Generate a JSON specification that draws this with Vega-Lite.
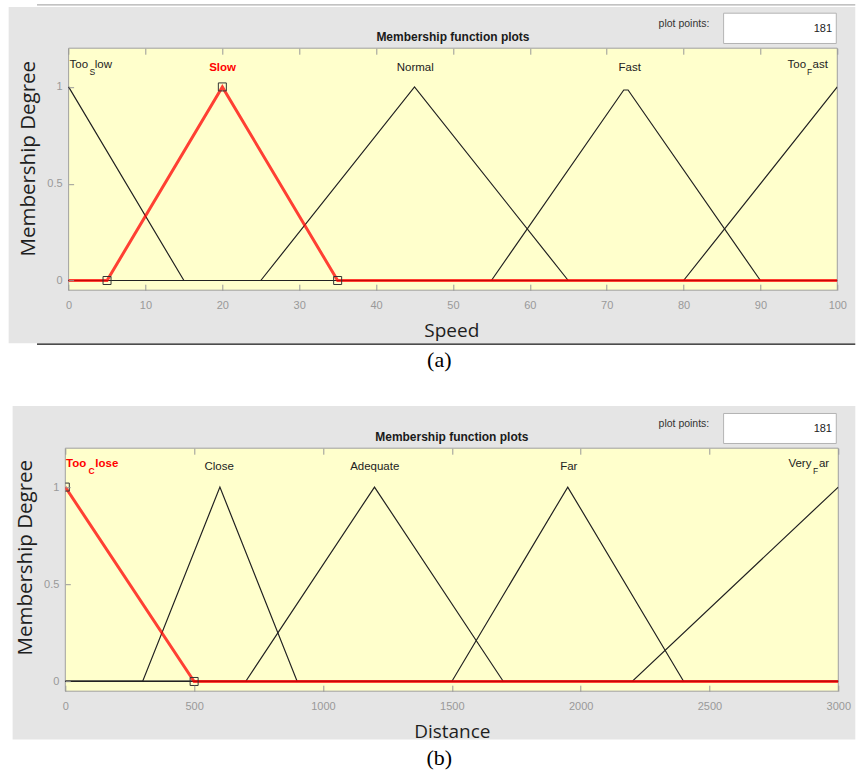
{
  "$schema": "https://vega.github.io/schema/vega-lite/v6.json",
  "background": "white",
  "padding": {"left": 8.3, "top": 4.2, "right": 1, "bottom": 4},
  "autosize": {"type": "pad"},
  "bounds": "flush",
  "spacing": 158,
  "config": {
    "view": {"stroke": null},
    "axis": {
      "domain": false, "grid": false, "tickColor": "#999999", "tickSize": -6,
      "labelColor": "#999999", "labelFont": "Liberation Sans", "labelFontSize": 11,
      "labelFlush": false, "labelOverlap": false,
      "titleFont": "Open Sans", "titleFontSize": 19, "titleFontWeight": "normal", "titleColor": "#1e1e1e"
    }
  },
  "datasets": {
    "a_mf": [
      {"mf": "TooSlow", "x": 0, "y": 1}, {"mf": "TooSlow", "x": 15, "y": 0}, {"mf": "TooSlow", "x": 100, "y": 0},
      {"mf": "Slow", "x": 0, "y": 0}, {"mf": "Slow", "x": 5, "y": 0}, {"mf": "Slow", "x": 20, "y": 1}, {"mf": "Slow", "x": 35, "y": 0}, {"mf": "Slow", "x": 100, "y": 0},
      {"mf": "Normal", "x": 0, "y": 0}, {"mf": "Normal", "x": 25, "y": 0}, {"mf": "Normal", "x": 45, "y": 1}, {"mf": "Normal", "x": 65, "y": 0}, {"mf": "Normal", "x": 100, "y": 0},
      {"mf": "Fast", "x": 0, "y": 0}, {"mf": "Fast", "x": 55, "y": 0}, {"mf": "Fast", "x": 72.22, "y": 0.984}, {"mf": "Fast", "x": 72.78, "y": 0.984}, {"mf": "Fast", "x": 90, "y": 0}, {"mf": "Fast", "x": 100, "y": 0},
      {"mf": "TooFast", "x": 0, "y": 0}, {"mf": "TooFast", "x": 80, "y": 0}, {"mf": "TooFast", "x": 100, "y": 1}
    ],
    "a_pts": [{"x": 5, "y": 0}, {"x": 20, "y": 1}, {"x": 35, "y": 0}],
    "a_lab": [
      {"x": 0.13, "t": "Too", "k": "p"}, {"x": 2.73, "t": "S", "k": "s"}, {"x": 3.41, "t": "low", "k": "p"},
      {"x": 20.03, "t": "Slow", "k": "cs"},
      {"x": 45.1, "t": "Normal", "k": "c"},
      {"x": 73.0, "t": "Fast", "k": "c"},
      {"x": 93.53, "t": "Too", "k": "p"}, {"x": 96.05, "t": "F", "k": "s"}, {"x": 96.79, "t": "ast", "k": "p"}
    ],
    "b_mf": [
      {"mf": "TooClose", "x": 0, "y": 1}, {"mf": "TooClose", "x": 500, "y": 0}, {"mf": "TooClose", "x": 3000, "y": 0},
      {"mf": "Close", "x": 0, "y": 0}, {"mf": "Close", "x": 300, "y": 0}, {"mf": "Close", "x": 600, "y": 1}, {"mf": "Close", "x": 900, "y": 0}, {"mf": "Close", "x": 3000, "y": 0},
      {"mf": "Adequate", "x": 0, "y": 0}, {"mf": "Adequate", "x": 700, "y": 0}, {"mf": "Adequate", "x": 1200, "y": 1}, {"mf": "Adequate", "x": 1700, "y": 0}, {"mf": "Adequate", "x": 3000, "y": 0},
      {"mf": "Far", "x": 0, "y": 0}, {"mf": "Far", "x": 1500, "y": 0}, {"mf": "Far", "x": 1950, "y": 1}, {"mf": "Far", "x": 2400, "y": 0}, {"mf": "Far", "x": 3000, "y": 0},
      {"mf": "VeryFar", "x": 0, "y": 0}, {"mf": "VeryFar", "x": 2200, "y": 0}, {"mf": "VeryFar", "x": 3000, "y": 1}
    ],
    "b_pts": [{"x": 0, "y": 1}, {"x": 500, "y": 0}],
    "b_lab": [
      {"x": 2.7, "t": "Too", "k": "ps"}, {"x": 90.4, "t": "C", "k": "ss"}, {"x": 116.4, "t": "lose", "k": "ps"},
      {"x": 597, "t": "Close", "k": "c"},
      {"x": 1201, "t": "Adequate", "k": "c"},
      {"x": 1954, "t": "Far", "k": "c"},
      {"x": 2806.6, "t": "Very", "k": "p"}, {"x": 2901.7, "t": "F", "k": "s"}, {"x": 2925, "t": "ar", "k": "p"}
    ]
  },
  "vconcat": [
    {
      "width": 772, "height": 242,
      "resolve": {"axis": {"x": "independent", "y": "independent"}},
      "layer": [
        {"data": {"values": [{}]}, "mark": {"type": "rect", "color": "#e5e5e5", "clip": false},
         "encoding": {"x": {"datum": -7.8, "type": "quantitative", "scale": {"domain": [-0.43, 100], "nice": false, "zero": false}, "axis": null}, "x2": {"datum": 102.34},
                      "y": {"datum": -0.3238, "type": "quantitative", "scale": {"domain": [-0.05, 1.2], "nice": false, "zero": false}, "axis": null}, "y2": {"datum": 1.4133}}},
        {"data": {"values": [{}]}, "mark": {"type": "rule", "color": "#9a9a9a", "strokeWidth": 1, "clip": false},
         "encoding": {"x": {"datum": -4.11, "type": "quantitative", "scale": {"domain": [-0.43, 100], "nice": false, "zero": false}, "axis": null}, "x2": {"datum": 102.34},
                      "y": {"datum": 1.4237, "type": "quantitative", "scale": {"domain": [-0.05, 1.2], "nice": false, "zero": false}, "axis": null}}},
        {"data": {"values": [{}]}, "mark": {"type": "rule", "color": "#111111", "strokeWidth": 1.3, "clip": false},
         "encoding": {"x": {"datum": -4.11, "type": "quantitative", "scale": {"domain": [-0.43, 100], "nice": false, "zero": false}, "axis": null}, "x2": {"datum": 102.34},
                      "y": {"datum": -0.329, "type": "quantitative", "scale": {"domain": [-0.05, 1.2], "nice": false, "zero": false}, "axis": null}}},
        {"data": {"values": [{}]}, "mark": {"type": "rect", "fill": "#ffffff", "stroke": "#b4b4b4", "strokeWidth": 1, "clip": false},
         "encoding": {"x": {"datum": 85.21, "type": "quantitative", "scale": {"domain": [-0.43, 100], "nice": false, "zero": false}, "axis": null}, "x2": {"datum": 99.87},
                      "y": {"datum": 1.2243, "type": "quantitative", "scale": {"domain": [-0.05, 1.2], "nice": false, "zero": false}, "axis": null}, "y2": {"datum": 1.3808}}},
        {"data": {"values": [{}]}, "mark": {"type": "rect", "fill": "#ffffcc", "stroke": "#a0a0a0", "strokeWidth": 1, "clip": false},
         "encoding": {"x": {"datum": 0, "type": "quantitative", "scale": {"domain": [-0.43, 100], "nice": false, "zero": false}, "axis": null}, "x2": {"datum": 100},
                      "y": {"datum": -0.05, "type": "quantitative", "scale": {"domain": [-0.05, 1.2], "nice": false, "zero": false}, "axis": null}, "y2": {"datum": 1.2}}},
        {"data": {"name": "a_mf"}, "transform": [{"filter": "datum.mf != 'Slow'"}],
         "mark": {"type": "line", "color": "#222222", "strokeWidth": 1.2, "clip": true},
         "encoding": {"x": {"field": "x", "type": "quantitative", "scale": {"domain": [-0.43, 100], "nice": false, "zero": false},
                            "axis": {"orient": "bottom", "title": "Speed", "values": [0,10,20,30,40,50,60,70,80,90,100], "labelPadding": 15, "titlePadding": 11, "zindex": 1}},
                      "y": {"field": "y", "type": "quantitative", "scale": {"domain": [-0.05, 1.2], "nice": false, "zero": false},
                            "axis": {"orient": "left", "title": "Membership Degree", "titleFontSize": 20.5, "titleY": 110, "values": [0, 0.5, 1], "format": "~g", "offset": -3.3, "tickSize": -5, "labelPadding": 11.5, "titlePadding": 8.5, "zindex": 1}},
                      "detail": {"field": "mf"}}},
        {"data": {"name": "a_mf"}, "transform": [{"filter": "datum.mf == 'Slow'"}],
         "mark": {"type": "line", "color": "#ff0000", "strokeWidth": 3, "opacity": 0.75, "clip": true},
         "encoding": {"x": {"field": "x", "type": "quantitative", "scale": {"domain": [-0.43, 100], "nice": false, "zero": false},
                            "axis": {"orient": "top", "title": null, "labels": false, "values": [0,10,20,30,40,50,60,70,80,90,100], "zindex": 1}},
                      "y": {"field": "y", "type": "quantitative", "scale": {"domain": [-0.05, 1.2], "nice": false, "zero": false}, "axis": null},
                      "detail": {"field": "mf"}}},
        {"data": {"name": "a_pts"}, "mark": {"type": "point", "shape": "square", "filled": false, "size": 64, "color": "#333333", "strokeWidth": 1, "opacity": 1},
         "encoding": {"x": {"field": "x", "type": "quantitative", "scale": {"domain": [-0.43, 100], "nice": false, "zero": false}, "axis": null},
                      "y": {"field": "y", "type": "quantitative", "scale": {"domain": [-0.05, 1.2], "nice": false, "zero": false}, "axis": null}}},
        {"data": {"name": "a_lab"}, "transform": [{"filter": "datum.k == 'c'"}],
         "mark": {"type": "text", "align": "center", "baseline": "middle", "font": "Liberation Sans", "fontSize": 11.5, "color": "#222222"},
         "encoding": {"x": {"field": "x", "type": "quantitative", "scale": {"domain": [-0.43, 100], "nice": false, "zero": false}, "axis": null},
                      "y": {"datum": 1.1003, "type": "quantitative", "scale": {"domain": [-0.05, 1.2], "nice": false, "zero": false}, "axis": null},
                      "text": {"field": "t"}}},
        {"data": {"name": "a_lab"}, "transform": [{"filter": "datum.k == 'cs'"}],
         "mark": {"type": "text", "align": "center", "baseline": "middle", "font": "Liberation Sans", "fontSize": 11.5, "fontWeight": "bold", "color": "#ff0000"},
         "encoding": {"x": {"field": "x", "type": "quantitative", "scale": {"domain": [-0.43, 100], "nice": false, "zero": false}, "axis": null},
                      "y": {"datum": 1.1003, "type": "quantitative", "scale": {"domain": [-0.05, 1.2], "nice": false, "zero": false}, "axis": null},
                      "text": {"field": "t"}}},
        {"data": {"name": "a_lab"}, "transform": [{"filter": "datum.k == 'p'"}],
         "mark": {"type": "text", "align": "left", "baseline": "middle", "font": "Liberation Sans", "fontSize": 11.5, "color": "#222222"},
         "encoding": {"x": {"field": "x", "type": "quantitative", "scale": {"domain": [-0.43, 100], "nice": false, "zero": false}, "axis": null},
                      "y": {"datum": 1.1122, "type": "quantitative", "scale": {"domain": [-0.05, 1.2], "nice": false, "zero": false}, "axis": null},
                      "text": {"field": "t"}}},
        {"data": {"name": "a_lab"}, "transform": [{"filter": "datum.k == 's'"}],
         "mark": {"type": "text", "align": "left", "baseline": "middle", "font": "Liberation Sans", "fontSize": 8.5, "color": "#222222"},
         "encoding": {"x": {"field": "x", "type": "quantitative", "scale": {"domain": [-0.43, 100], "nice": false, "zero": false}, "axis": null},
                      "y": {"datum": 1.0776, "type": "quantitative", "scale": {"domain": [-0.05, 1.2], "nice": false, "zero": false}, "axis": null},
                      "text": {"field": "t"}}},
        {"data": {"values": [{}]}, "mark": {"type": "text", "text": "Membership function plots", "align": "center", "baseline": "middle", "font": "Liberation Sans", "fontSize": 12, "fontWeight": "bold", "color": "#1a1a1a", "clip": false},
         "encoding": {"x": {"datum": 50, "type": "quantitative", "scale": {"domain": [-0.43, 100], "nice": false, "zero": false}, "axis": null},
                      "y": {"datum": 1.2568, "type": "quantitative", "scale": {"domain": [-0.05, 1.2], "nice": false, "zero": false}, "axis": null}}},
        {"data": {"values": [{}]}, "mark": {"type": "text", "text": "plot points:", "align": "right", "baseline": "middle", "font": "Liberation Sans", "fontSize": 10.5, "color": "#333333", "clip": false},
         "encoding": {"x": {"datum": 83.35, "type": "quantitative", "scale": {"domain": [-0.43, 100], "nice": false, "zero": false}, "axis": null},
                      "y": {"datum": 1.324, "type": "quantitative", "scale": {"domain": [-0.05, 1.2], "nice": false, "zero": false}, "axis": null}}},
        {"data": {"values": [{}]}, "mark": {"type": "text", "text": "181", "align": "right", "baseline": "middle", "font": "Liberation Sans", "fontSize": 11, "color": "#222222", "clip": false},
         "encoding": {"x": {"datum": 99.31, "type": "quantitative", "scale": {"domain": [-0.43, 100], "nice": false, "zero": false}, "axis": null},
                      "y": {"datum": 1.2981, "type": "quantitative", "scale": {"domain": [-0.05, 1.2], "nice": false, "zero": false}, "axis": null}}},
        {"data": {"values": [{}]}, "mark": {"type": "text", "text": "(a)", "align": "center", "baseline": "middle", "font": "Liberation Serif", "fontSize": 22, "color": "#000000", "clip": false},
         "encoding": {"x": {"datum": 48.22, "type": "quantitative", "scale": {"domain": [-0.43, 100], "nice": false, "zero": false}, "axis": null},
                      "y": {"datum": -0.4116, "type": "quantitative", "scale": {"domain": [-0.05, 1.2], "nice": false, "zero": false}, "axis": null}}}
      ]
    },
    {
      "width": 773, "height": 243,
      "resolve": {"axis": {"x": "independent", "y": "independent"}},
      "layer": [
        {"data": {"values": [{}]}, "mark": {"type": "rect", "color": "#e5e5e5", "clip": false},
         "encoding": {"x": {"datum": -204.5, "type": "quantitative", "scale": {"domain": [0, 3000], "nice": false, "zero": false}, "axis": null}, "x2": {"datum": 3066},
                      "y": {"datum": -0.2985, "type": "quantitative", "scale": {"domain": [-0.05, 1.2], "nice": false, "zero": false}, "axis": null}, "y2": {"datum": 1.4176}}},
        {"data": {"values": [{}]}, "mark": {"type": "rect", "fill": "#ffffff", "stroke": "#b4b4b4", "strokeWidth": 1, "clip": false},
         "encoding": {"x": {"datum": 2554.8, "type": "quantitative", "scale": {"domain": [0, 3000], "nice": false, "zero": false}, "axis": null}, "x2": {"datum": 2992.2},
                      "y": {"datum": 1.2242, "type": "quantitative", "scale": {"domain": [-0.05, 1.2], "nice": false, "zero": false}, "axis": null}, "y2": {"datum": 1.3785}}},
        {"data": {"values": [{}]}, "mark": {"type": "rect", "fill": "#ffffcc", "stroke": "#a0a0a0", "strokeWidth": 1, "clip": false},
         "encoding": {"x": {"datum": 0, "type": "quantitative", "scale": {"domain": [0, 3000], "nice": false, "zero": false}, "axis": null}, "x2": {"datum": 3000},
                      "y": {"datum": -0.05, "type": "quantitative", "scale": {"domain": [-0.05, 1.2], "nice": false, "zero": false}, "axis": null}, "y2": {"datum": 1.2}}},
        {"data": {"name": "b_mf"}, "transform": [{"filter": "datum.mf != 'TooClose'"}],
         "mark": {"type": "line", "color": "#222222", "strokeWidth": 1.2, "clip": true},
         "encoding": {"x": {"field": "x", "type": "quantitative", "scale": {"domain": [0, 3000], "nice": false, "zero": false},
                            "axis": {"orient": "bottom", "title": "Distance", "values": [0,500,1000,1500,2000,2500,3000], "format": "d", "labelPadding": 15, "titlePadding": 11, "zindex": 1}},
                      "y": {"field": "y", "type": "quantitative", "scale": {"domain": [-0.05, 1.2], "nice": false, "zero": false},
                            "axis": {"orient": "left", "title": "Membership Degree", "titleFontSize": 20.5, "titleY": 109, "values": [0, 0.5, 1], "format": "~g", "tickSize": -5, "labelPadding": 11.5, "titlePadding": 8.5, "zindex": 1}},
                      "detail": {"field": "mf"}}},
        {"data": {"name": "b_mf"}, "transform": [{"filter": "datum.mf == 'TooClose'"}],
         "mark": {"type": "line", "color": "#ff0000", "strokeWidth": 3, "opacity": 0.75, "clip": true},
         "encoding": {"x": {"field": "x", "type": "quantitative", "scale": {"domain": [0, 3000], "nice": false, "zero": false},
                            "axis": {"orient": "top", "title": null, "labels": false, "values": [0,500,1000,1500,2000,2500,3000], "zindex": 1}},
                      "y": {"field": "y", "type": "quantitative", "scale": {"domain": [-0.05, 1.2], "nice": false, "zero": false}, "axis": null},
                      "detail": {"field": "mf"}}},
        {"data": {"name": "b_pts"}, "mark": {"type": "point", "shape": "square", "filled": false, "size": 64, "color": "#333333", "strokeWidth": 1, "opacity": 1, "clip": true},
         "encoding": {"x": {"field": "x", "type": "quantitative", "scale": {"domain": [0, 3000], "nice": false, "zero": false}, "axis": null},
                      "y": {"field": "y", "type": "quantitative", "scale": {"domain": [-0.05, 1.2], "nice": false, "zero": false}, "axis": null}}},
        {"data": {"name": "b_lab"}, "transform": [{"filter": "datum.k == 'c'"}],
         "mark": {"type": "text", "align": "center", "baseline": "middle", "font": "Liberation Sans", "fontSize": 11.5, "color": "#222222"},
         "encoding": {"x": {"field": "x", "type": "quantitative", "scale": {"domain": [0, 3000], "nice": false, "zero": false}, "axis": null},
                      "y": {"datum": 1.1007, "type": "quantitative", "scale": {"domain": [-0.05, 1.2], "nice": false, "zero": false}, "axis": null},
                      "text": {"field": "t"}}},
        {"data": {"name": "b_lab"}, "transform": [{"filter": "datum.k == 'p'"}],
         "mark": {"type": "text", "align": "left", "baseline": "middle", "font": "Liberation Sans", "fontSize": 11.5, "color": "#222222"},
         "encoding": {"x": {"field": "x", "type": "quantitative", "scale": {"domain": [0, 3000], "nice": false, "zero": false}, "axis": null},
                      "y": {"datum": 1.1177, "type": "quantitative", "scale": {"domain": [-0.05, 1.2], "nice": false, "zero": false}, "axis": null},
                      "text": {"field": "t"}}},
        {"data": {"name": "b_lab"}, "transform": [{"filter": "datum.k == 's'"}],
         "mark": {"type": "text", "align": "left", "baseline": "middle", "font": "Liberation Sans", "fontSize": 8.5, "color": "#222222"},
         "encoding": {"x": {"field": "x", "type": "quantitative", "scale": {"domain": [0, 3000], "nice": false, "zero": false}, "axis": null},
                      "y": {"datum": 1.0832, "type": "quantitative", "scale": {"domain": [-0.05, 1.2], "nice": false, "zero": false}, "axis": null},
                      "text": {"field": "t"}}},
        {"data": {"name": "b_lab"}, "transform": [{"filter": "datum.k == 'ps'"}],
         "mark": {"type": "text", "align": "left", "baseline": "middle", "font": "Liberation Sans", "fontSize": 11.5, "fontWeight": "bold", "color": "#ff0000"},
         "encoding": {"x": {"field": "x", "type": "quantitative", "scale": {"domain": [0, 3000], "nice": false, "zero": false}, "axis": null},
                      "y": {"datum": 1.1177, "type": "quantitative", "scale": {"domain": [-0.05, 1.2], "nice": false, "zero": false}, "axis": null},
                      "text": {"field": "t"}}},
        {"data": {"name": "b_lab"}, "transform": [{"filter": "datum.k == 'ss'"}],
         "mark": {"type": "text", "align": "left", "baseline": "middle", "font": "Liberation Sans", "fontSize": 8.5, "fontWeight": "bold", "color": "#ff0000"},
         "encoding": {"x": {"field": "x", "type": "quantitative", "scale": {"domain": [0, 3000], "nice": false, "zero": false}, "axis": null},
                      "y": {"datum": 1.0832, "type": "quantitative", "scale": {"domain": [-0.05, 1.2], "nice": false, "zero": false}, "axis": null},
                      "text": {"field": "t"}}},
        {"data": {"values": [{}]}, "mark": {"type": "text", "text": "Membership function plots", "align": "center", "baseline": "middle", "font": "Liberation Sans", "fontSize": 12, "fontWeight": "bold", "color": "#1a1a1a", "clip": false},
         "encoding": {"x": {"datum": 1500, "type": "quantitative", "scale": {"domain": [0, 3000], "nice": false, "zero": false}, "axis": null},
                      "y": {"datum": 1.2581, "type": "quantitative", "scale": {"domain": [-0.05, 1.2], "nice": false, "zero": false}, "axis": null}}},
        {"data": {"values": [{}]}, "mark": {"type": "text", "text": "plot points:", "align": "right", "baseline": "middle", "font": "Liberation Sans", "fontSize": 10.5, "color": "#333333", "clip": false},
         "encoding": {"x": {"datum": 2499.3, "type": "quantitative", "scale": {"domain": [0, 3000], "nice": false, "zero": false}, "axis": null},
                      "y": {"datum": 1.3235, "type": "quantitative", "scale": {"domain": [-0.05, 1.2], "nice": false, "zero": false}, "axis": null}}},
        {"data": {"values": [{}]}, "mark": {"type": "text", "text": "181", "align": "right", "baseline": "middle", "font": "Liberation Sans", "fontSize": 11, "color": "#222222", "clip": false},
         "encoding": {"x": {"datum": 2975.5, "type": "quantitative", "scale": {"domain": [0, 3000], "nice": false, "zero": false}, "axis": null},
                      "y": {"datum": 1.2977, "type": "quantitative", "scale": {"domain": [-0.05, 1.2], "nice": false, "zero": false}, "axis": null}}},
        {"data": {"values": [{}]}, "mark": {"type": "text", "text": "(b)", "align": "center", "baseline": "middle", "font": "Liberation Serif", "fontSize": 22, "color": "#000000", "clip": false},
         "encoding": {"x": {"datum": 1451.5, "type": "quantitative", "scale": {"domain": [0, 3000], "nice": false, "zero": false}, "axis": null},
                      "y": {"datum": -0.3947, "type": "quantitative", "scale": {"domain": [-0.05, 1.2], "nice": false, "zero": false}, "axis": null}}}
      ]
    }
  ]
}
